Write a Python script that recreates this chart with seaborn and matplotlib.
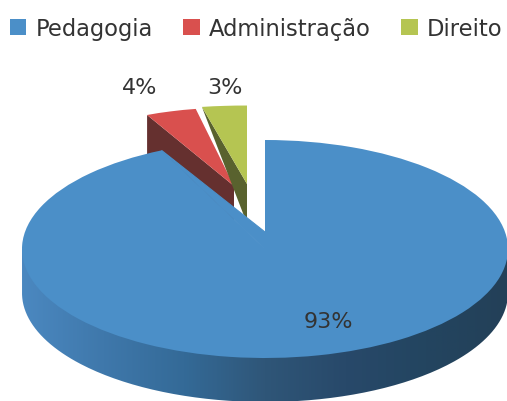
import numpy as np
import matplotlib
matplotlib.use("Agg")
import matplotlib.pyplot as plt
import seaborn as sns
from matplotlib.patches import Patch, PathPatch
from matplotlib.path import Path
from matplotlib.transforms import Affine2D

# data
cursos = ["Pedagogia", "Administração", "Direito"]
percentuais = [93, 4, 3]

cores_topo = ["#4b8fc8", "#d9504e", "#b5c552"]
cores_lado = ["#4b88c0", "#65302f", "#59622e"]
cor_texto = "#333333"

# pie ellipse in image pixels
W, H = 507, 402
CX, CY = 265, 250
RX, RY = 243, 109
DEPTH = 44 / RY


def px(x, y):
    return (x - CX) / RX, (CY - y) / RY


sns.set_theme(style="white")
plt.rcParams["font.family"] = ["DejaVu Sans"]

fig = plt.figure(figsize=(W / 100, H / 100), dpi=100)
ax = fig.add_axes([0, 0, 1, 1])

wedges, _ = ax.pie(percentuais, colors=cores_topo, startangle=90, counterclock=False,
                   wedgeprops=dict(linewidth=0))
ax.axis("off")

# exploded slices, smaller because of the perspective: scale x, scale y, apex pixel
explode = {1: (0.84, 0.72, px(234, 187)), 2: (0.99, 0.72, px(247, 185))}
angulos = 90 - np.cumsum([0] + percentuais) * 3.6

for i, (sx, sy, apex) in explode.items():
    wedges[i].set_transform(Affine2D().scale(sx, sy).translate(*apex) + ax.transData)

    # side wall under the outer corner of the slice
    a = np.radians(angulos[i])
    fora = (apex[0] + sx * np.cos(a), apex[1] + sy * np.sin(a))
    queda = DEPTH * 0.9 if i == 1 else 0
    parede = [fora, (fora[0], fora[1] - queda), (apex[0], apex[1] - DEPTH * 0.9), apex]
    xs, ys = zip(*parede)
    ax.fill(xs, ys, color=cores_lado[i], linewidth=0, zorder=1.5 + i * 0.5)
    wedges[i].set_zorder(1.6 + i * 0.5)

# main slice: the notch apex sits above the ellipse centre
wedges[0].set_zorder(3)
a = np.radians(angulos[1])
apex_azul = px(CX, 233)
ax.fill([np.cos(a), apex_azul[0], 0], [np.sin(a), apex_azul[1], 0],
        color=cores_topo[0], linewidth=0.8, zorder=3)

# side of the big slice with the light to dark gradient
t = np.linspace(np.pi, 2 * np.pi, 200)
contorno = np.vstack([[-1, 0], np.column_stack([np.cos(t), np.sin(t) - DEPTH]), [1, 0]])
lado = PathPatch(Path(contorno), transform=ax.transData, facecolor="none", edgecolor="none")
ax.add_patch(lado)
cmap = sns.blend_palette(["#4b88c0", "#3f78ab", "#346a97", "#2f5678", "#28496a", "#234560", "#234058"],
                         as_cmap=True)
img = ax.imshow(np.linspace(0, 1, 256).reshape(1, -1), cmap=cmap, aspect="auto",
                extent=(-1, 1, -1 - DEPTH, 0), zorder=0.5)
img.set_clip_path(lado)

# pie and imshow both touch the limits, the chart is squashed
ax.set_aspect("auto")
ax.set_xlim(*[px(x, 0)[0] for x in (0, W)])
ax.set_ylim(*[px(0, y)[1] for y in (H, 0)])

# percent labels
posicoes = [(328, 322), (140, 88), (225, 88)]
for v, (x, y) in zip(percentuais, posicoes):
    ax.text(*px(x, y), f"{v}%", ha="center", va="center", fontsize=16, color=cor_texto, zorder=5)

handles = [Patch(color=c, linewidth=0) for c in cores_topo]
ax.legend(handles, cursos, ncol=3, loc="upper left", bbox_to_anchor=(10 / W, 1 - 18 / H),
          frameon=False, fontsize=16.3, labelcolor=cor_texto, borderpad=0, borderaxespad=0,
          handlelength=0.72, handleheight=0.72, handletextpad=0.4, columnspacing=1.36)

fig.savefig("out.png", dpi=100)
